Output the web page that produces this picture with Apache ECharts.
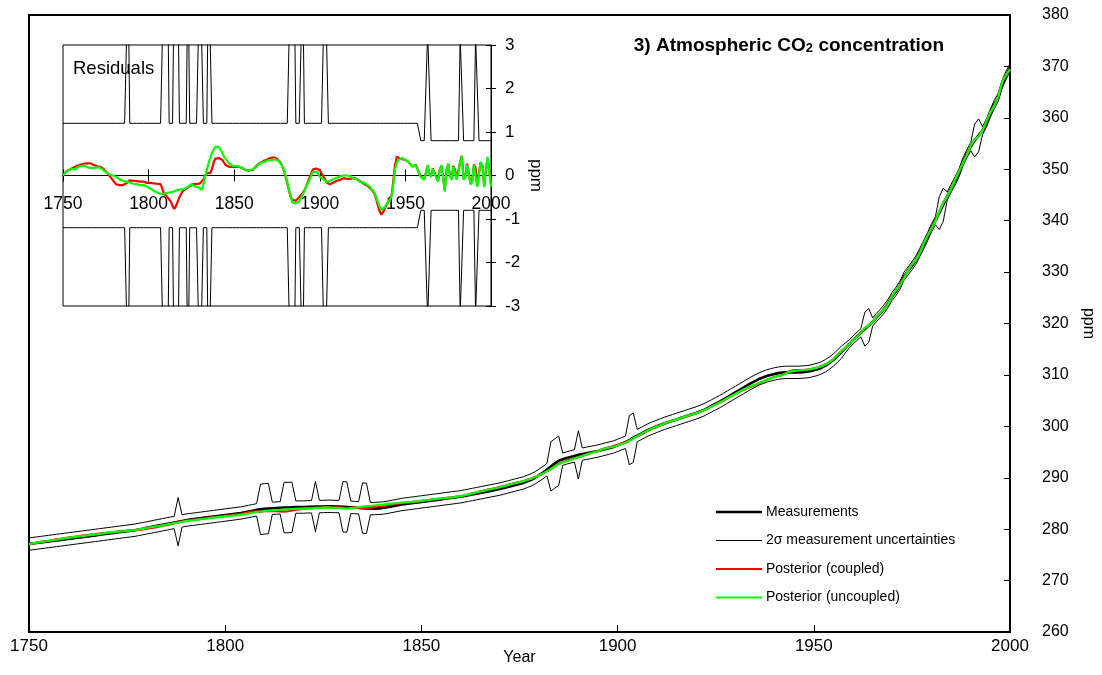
<!DOCTYPE html>
<html>
<head>
<meta charset="utf-8">
<script src="https://cdn.jsdelivr.net/npm/echarts@6/dist/echarts.min.js"></script>
<style>
  html, body { margin: 0; padding: 0; background: #fff; }
  #chart { width: 1102px; height: 675px; }
</style>
</head>
<body>
<div id="chart"></div>
<script>
// Atmospheric CO2, 1750-2000, one value per year
const startYear = 1750;

// Measured concentration (ppm)
const measurements = [
  277.1, 277.2, 277.3, 277.4, 277.5, 277.6, 277.7, 277.8, 277.9, 278.0,
  278.1, 278.2, 278.3, 278.4, 278.5, 278.6, 278.7, 278.8, 278.9, 279.0,
  279.1, 279.2, 279.3, 279.4, 279.5, 279.6, 279.7, 279.8, 279.95, 280.1,
  280.25, 280.4, 280.55, 280.7, 280.85, 281.0, 281.15, 281.3, 281.45, 281.6,
  281.75, 281.85, 281.95, 282.05, 282.15, 282.25, 282.35, 282.45, 282.55, 282.65,
  282.75, 282.85, 282.95, 283.05, 283.15, 283.3, 283.45, 283.6, 283.75, 283.85,
  283.95, 284.0, 284.05, 284.1, 284.15, 284.2, 284.2, 284.25, 284.3, 284.3,
  284.3, 284.35, 284.35, 284.4, 284.4, 284.4, 284.45, 284.45, 284.4, 284.4,
  284.35, 284.3, 284.25, 284.2, 284.15, 284.1, 284.05, 284.0, 284.0, 284.05,
  284.1, 284.2, 284.35, 284.5, 284.65, 284.8, 284.9, 285.0, 285.1, 285.2,
  285.3, 285.4, 285.5, 285.6, 285.7, 285.8, 285.9, 286.0, 286.1, 286.2,
  286.3, 286.45, 286.6, 286.75, 286.9, 287.05, 287.2, 287.35, 287.5, 287.65,
  287.8, 288.0, 288.2, 288.4, 288.6, 288.8, 289.0, 289.3, 289.6, 290.0,
  290.5, 291.0, 291.6, 292.2, 292.8, 293.3, 293.6, 293.85, 294.05, 294.25,
  294.45, 294.6, 294.75, 294.9, 295.05, 295.2, 295.4, 295.6, 295.8, 296.0,
  296.3, 296.6, 296.9, 297.3, 297.8, 298.2, 298.6, 299.0, 299.4, 299.7,
  300.0, 300.3, 300.6, 300.85, 301.1, 301.35, 301.6, 301.85, 302.1, 302.35,
  302.6, 302.9, 303.2, 303.6, 304.0, 304.4, 304.8, 305.25, 305.7, 306.15,
  306.6, 307.05, 307.5, 307.95, 308.4, 308.8, 309.2, 309.5, 309.8, 310.0,
  310.2, 310.35, 310.45, 310.5, 310.5, 310.5, 310.5, 310.55, 310.6, 310.7,
  310.9, 311.1, 311.4, 311.8, 312.3, 312.9, 313.6, 314.4, 315.2, 316.0,
  316.8, 317.5, 318.2, 318.9, 319.6, 320.3, 321.2, 322.0, 322.9, 324.0,
  325.3, 326.3, 327.5, 329.2, 330.2, 331.2, 332.3, 333.8, 335.3, 336.9,
  338.6, 340.0, 341.5, 343.1, 344.8, 346.3, 347.7, 349.3, 351.4, 353.0,
  354.4, 355.6, 356.6, 357.5, 359.0, 360.9, 362.6, 364.0, 366.5, 368.3,
  369.7
];

// 2-sigma measurement uncertainty (ppm)
const sigma2 = [
  1.2, 1.2, 1.2, 1.2, 1.2, 1.2, 1.2, 1.2, 1.2, 1.2,
  1.2, 1.2, 1.2, 1.2, 1.2, 1.2, 1.2, 1.2, 1.2, 1.2,
  1.2, 1.2, 1.2, 1.2, 1.2, 1.2, 1.2, 1.2, 1.2, 1.2,
  1.2, 1.2, 1.2, 1.2, 1.2, 1.2, 1.2, 1.2, 4.7, 1.2,
  1.2, 1.2, 1.2, 1.2, 1.2, 1.2, 1.2, 1.2, 1.2, 1.2,
  1.2, 1.2, 1.2, 1.2, 1.2, 1.2, 1.2, 1.2, 1.2, 4.9,
  4.9, 4.9, 1.2, 1.2, 1.2, 4.9, 4.9, 4.9, 1.2, 1.2,
  1.2, 1.2, 1.2, 4.9, 1.2, 1.2, 1.2, 1.2, 1.2, 1.2,
  4.9, 4.9, 1.2, 1.2, 1.2, 4.9, 4.9, 1.2, 1.2, 1.2,
  1.2, 1.2, 1.2, 1.2, 1.2, 1.2, 1.2, 1.2, 1.2, 1.2,
  1.2, 1.2, 1.2, 1.2, 1.2, 1.2, 1.2, 1.2, 1.2, 1.2,
  1.2, 1.2, 1.2, 1.2, 1.2, 1.2, 1.2, 1.2, 1.2, 1.2,
  1.2, 1.2, 1.2, 1.2, 1.2, 1.2, 1.2, 1.2, 1.2, 1.2,
  1.2, 1.2, 1.2, 4.8, 4.8, 4.8, 1.2, 1.2, 1.2, 1.2,
  4.7, 1.2, 1.2, 1.2, 1.2, 1.2, 1.2, 1.2, 1.2, 1.2,
  1.2, 1.2, 1.2, 4.8, 4.8, 1.2, 1.2, 1.2, 1.2, 1.2,
  1.2, 1.2, 1.2, 1.2, 1.2, 1.2, 1.2, 1.2, 1.2, 1.2,
  1.2, 1.2, 1.2, 1.2, 1.2, 1.2, 1.2, 1.2, 1.2, 1.2,
  1.2, 1.2, 1.2, 1.2, 1.2, 1.2, 1.2, 1.2, 1.2, 1.2,
  1.2, 1.2, 1.2, 1.2, 1.2, 1.2, 1.2, 1.2, 1.2, 1.2,
  1.2, 1.2, 1.2, 1.2, 1.2, 1.2, 1.2, 1.2, 1.0, 0.8,
  0.8, 0.8, 0.8, 3.3, 3.3, 0.8, 0.8, 0.8, 0.8, 0.8,
  0.8, 0.8, 0.8, 0.8, 0.8, 0.8, 0.8, 0.8, 0.8, 0.8,
  0.8, 0.8, 3.2, 3.2, 0.8, 0.8, 0.8, 0.8, 0.8, 0.8,
  0.8, 3.2, 3.2, 0.8, 0.8, 0.8, 0.8, 0.8, 0.8, 0.8,
  0.8
];

// Residuals, posterior minus measurement (ppm), coupled inversion
const residCoupled = [
  0.0, 0.05, 0.1, 0.12, 0.14, 0.15, 0.18, 0.2, 0.22, 0.23,
  0.24, 0.25, 0.27, 0.26, 0.28, 0.27, 0.28, 0.25, 0.24, 0.22,
  0.21, 0.2, 0.2, 0.17, 0.14, 0.1, 0.05, 0.0, -0.05, -0.1,
  -0.15, -0.2, -0.22, -0.22, -0.2, -0.22, -0.21, -0.18, -0.14, -0.11,
  -0.1, -0.12, -0.11, -0.13, -0.12, -0.14, -0.15, -0.14, -0.16, -0.17,
  -0.18, -0.17, -0.19, -0.18, -0.19, -0.19, -0.18, -0.2, -0.3, -0.42,
  -0.46, -0.5, -0.53, -0.6, -0.7, -0.77, -0.7, -0.6, -0.5, -0.42,
  -0.36, -0.33, -0.3, -0.28, -0.25, -0.22, -0.2, -0.22, -0.2, -0.19,
  -0.18, -0.2, -0.1, 0.0, 0.05, 0.04, 0.06, 0.15, 0.3, 0.39,
  0.42, 0.4, 0.38, 0.36, 0.3, 0.24, 0.22, 0.2, 0.21, 0.2,
  0.22, 0.2, 0.19, 0.2, 0.18, 0.16, 0.15, 0.12, 0.11, 0.12,
  0.11, 0.13, 0.17, 0.22, 0.26, 0.29, 0.31, 0.33, 0.35, 0.36,
  0.37, 0.4, 0.42, 0.42, 0.4, 0.38, 0.34, 0.3, 0.22, 0.12,
  -0.02, -0.18, -0.35, -0.5, -0.56, -0.6, -0.58, -0.55, -0.5, -0.45,
  -0.4, -0.34, -0.26, -0.15, -0.05, 0.05, 0.14, 0.18, 0.16, 0.16,
  0.12, 0.08, -0.02, -0.08, -0.16, -0.19, -0.2, -0.18, -0.16, -0.14,
  -0.12, -0.1, -0.1, -0.08, -0.06, -0.06, -0.08, -0.05, -0.07, -0.08,
  -0.06, -0.08, -0.09, -0.12, -0.14, -0.17, -0.2, -0.22, -0.24, -0.28,
  -0.32, -0.36, -0.42, -0.55, -0.7, -0.82, -0.9, -0.84, -0.75, -0.68,
  -0.6, -0.52, -0.45, -0.1, 0.25, 0.43, 0.42, 0.38, 0.4, 0.37,
  0.36, 0.34, 0.31, 0.26, 0.21, 0.19, 0.25, 0.23, 0.06, -0.02,
  -0.04, -0.08, 0.06, 0.22, 0.04, -0.02, 0.16, 0.12, -0.03, -0.12,
  0.12, 0.22, -0.03, -0.33, 0.12, 0.26, 0.02, -0.08, 0.22, 0.14,
  -0.08, -0.12, 0.32, 0.45, -0.08, -0.03, 0.27, 0.26, -0.17, -0.12,
  0.25, 0.18, -0.23, 0.07, 0.3, 0.22, -0.24, 0.12, 0.4, 0.12,
  -0.2
];

// Residuals, posterior minus measurement (ppm), uncoupled inversion
const residUncoupled = [
  0.0, 0.05, 0.08, 0.12, 0.10, 0.15, 0.16, 0.14, 0.18, 0.2,
  0.19, 0.22, 0.2, 0.22, 0.21, 0.18, 0.2, 0.17, 0.19, 0.18,
  0.2, 0.19, 0.16, 0.14, 0.1, 0.08, 0.05, 0.03, 0.01, 0.0,
  -0.02, -0.03, -0.06, -0.09, -0.1, -0.12, -0.13, -0.14, -0.15, -0.16,
  -0.18, -0.19, -0.2, -0.2, -0.21, -0.22, -0.22, -0.22, -0.24, -0.26,
  -0.28, -0.3, -0.32, -0.35, -0.37, -0.39, -0.41, -0.42, -0.41, -0.42,
  -0.41, -0.4, -0.41, -0.39, -0.38, -0.36, -0.34, -0.33, -0.34, -0.32,
  -0.32, -0.31, -0.28, -0.26, -0.24, -0.2, -0.22, -0.25, -0.26, -0.27,
  -0.3, -0.33, -0.2, -0.03, 0.12, 0.28, 0.4, 0.52, 0.6, 0.66,
  0.64, 0.66, 0.6, 0.52, 0.44, 0.38, 0.33, 0.28, 0.25, 0.22,
  0.2, 0.22, 0.19, 0.2, 0.18, 0.17, 0.14, 0.12, 0.1, 0.12,
  0.11, 0.14, 0.16, 0.2, 0.25, 0.28, 0.3, 0.31, 0.32, 0.33,
  0.35, 0.34, 0.36, 0.38, 0.37, 0.36, 0.33, 0.28, 0.22, 0.14,
  0.0, -0.15, -0.32, -0.48, -0.62, -0.66, -0.64, -0.65, -0.6, -0.52,
  -0.45, -0.36, -0.26, -0.18, -0.1, 0.0, 0.08, 0.12, 0.09, 0.04,
  -0.03, -0.05, -0.08, -0.12, -0.15, -0.14, -0.12, -0.1, -0.08, -0.06,
  -0.05, -0.04, -0.02, -0.01, 0.0, 0.01, 0.0, 0.0, -0.02, -0.05,
  -0.08, -0.1, -0.09, -0.14, -0.12, -0.15, -0.18, -0.2, -0.22, -0.25,
  -0.3, -0.33, -0.4, -0.5, -0.62, -0.72, -0.79, -0.76, -0.72, -0.68,
  -0.6, -0.55, -0.48, -0.2, 0.15, 0.3, 0.36, 0.4, 0.4, 0.37,
  0.36, 0.33, 0.3, 0.25, 0.2, 0.18, 0.24, 0.22, 0.05, -0.03,
  -0.05, -0.1, 0.05, 0.24, 0.02, -0.03, 0.15, 0.13, -0.05, -0.14,
  0.1, 0.24, -0.05, -0.37, 0.1, 0.28, 0.0, -0.1, 0.2, 0.16,
  -0.1, -0.14, 0.3, 0.44, -0.1, -0.05, 0.25, 0.28, -0.2, -0.15,
  0.24, 0.2, -0.26, 0.05, 0.32, 0.2, -0.26, 0.1, 0.43, 0.1,
  -0.26
];

const legendNames = [
  'Measurements',
  '2σ measurement uncertainties',
  'Posterior (coupled)',
  'Posterior (uncoupled)'
];

const FONT = "'Liberation Sans', Arial, Helvetica, sans-serif";

const years = measurements.map((_, i) => startYear + i);
const asPairs = arr => arr.map((v, i) => [years[i], v]);

// main panel series
const measPairs = asPairs(measurements);
const upperBand = asPairs(measurements.map((m, i) => m + sigma2[i]));
const lowerBand = asPairs(measurements.map((m, i) => m - sigma2[i]));
const postCoupled = asPairs(measurements.map((m, i) => m + residCoupled[i]));
const postUncoupled = asPairs(measurements.map((m, i) => m + residUncoupled[i]));

// inset series
const insetUpper = asPairs(sigma2);
const insetLower = asPairs(sigma2.map(s => -s));
const insetCoupled = asPairs(residCoupled);
const insetUncoupled = asPairs(residUncoupled);

function lineSeries(name, data, xi, yi, color, width, z) {
  return {
    name, type: 'line', data,
    xAxisIndex: xi, yAxisIndex: yi,
    symbol: 'none', color,
    lineStyle: { color, width },
    clip: true, z, silent: true
  };
}

const chart = echarts.init(document.getElementById('chart'), null, { renderer: 'canvas' });

const axisText = size => ({ color: '#000', fontSize: size, fontFamily: FONT });
const plainNumber = v => String(v);

const option = {
  animation: false,
  backgroundColor: '#fff',
  textStyle: { fontFamily: FONT },
  title: [
    {
      text: '{b|3) Atmospheric CO}{s|2}{b| concentration}',
      right: 153, top: 28,
      textStyle: {
        rich: {
          b: { fontSize: 19, fontWeight: 'bold', color: '#000', fontFamily: FONT, lineHeight: 22, verticalAlign: 'bottom' },
          s: { fontSize: 13, fontWeight: 'bold', color: '#000', fontFamily: FONT, lineHeight: 11, verticalAlign: 'bottom' }
        }
      }
    },
    {
      text: 'Residuals',
      left: 68, top: 54,
      textStyle: { fontSize: 18.5, fontWeight: 'normal', color: '#000', fontFamily: FONT }
    }
  ],
  legend: {
    orient: 'vertical',
    left: 711, top: 500,
    itemWidth: 46, itemHeight: 14, itemGap: 14.5,
    selectedMode: false,
    textStyle: { fontSize: 14, color: '#000', fontFamily: FONT, padding: [0, 0, 0, -1] },
    data: [
      { name: legendNames[0], icon: 'path://M0,0H46V2.6H0Z' },
      { name: legendNames[1], icon: 'path://M0,0H46V1.1H0Z' },
      { name: legendNames[2], icon: 'path://M0,0H46V2.2H0Z' },
      { name: legendNames[3], icon: 'path://M0,0H46V2.2H0Z' }
    ]
  },
  grid: [
    { left: 29, top: 15, width: 981, height: 617, outerBoundsMode: 'none', containLabel: false,
      show: true, borderColor: '#000', borderWidth: 2, backgroundColor: 'transparent' },
    { left: 63, top: 45, width: 428, height: 261, outerBoundsMode: 'none', containLabel: false,
      show: true, borderColor: '#000', borderWidth: 1, backgroundColor: '#fff' }
  ],
  xAxis: [
    {
      gridIndex: 0, type: 'value', min: 1750, max: 2000, interval: 50,
      axisLine: { lineStyle: { color: '#000', width: 2 } },
      axisTick: { inside: true, length: 7, lineStyle: { color: '#000', width: 1 } },
      axisLabel: Object.assign({ margin: 6, formatter: plainNumber }, axisText(17)),
      splitLine: { show: false },
      name: 'Year', nameLocation: 'middle', nameGap: 18, nameMoveOverlap: false,
      nameTextStyle: axisText(16)
    },
    {
      gridIndex: 1, type: 'value', min: 1750, max: 2000, interval: 50, position: 'bottom',
      axisLine: { onZero: true, onZeroAxisIndex: 1, lineStyle: { color: '#000', width: 1 } },
      axisTick: { inside: false, length: 6, lineStyle: { color: '#000', width: 1 } },
      axisLabel: Object.assign({ margin: -111, formatter: plainNumber }, axisText(17.5)),
      splitLine: { show: false }
    },
    {
      gridIndex: 1, type: 'value', min: 1750, max: 2000, interval: 50, position: 'top',
      axisLine: { show: false, onZero: true, onZeroAxisIndex: 2 },
      axisTick: { show: true, inside: false, length: 6, lineStyle: { color: '#000', width: 1 } },
      axisLabel: { show: false },
      splitLine: { show: false }
    }
  ],
  yAxis: [
    {
      gridIndex: 0, type: 'value', position: 'right', min: 260, max: 380, interval: 10,
      axisLine: { show: true, lineStyle: { color: '#000', width: 2 } },
      axisTick: { show: true, inside: true, length: 6, lineStyle: { color: '#000', width: 1 } },
      axisLabel: Object.assign({ margin: 32 }, axisText(16)),
      splitLine: { show: false },
      name: 'ppm', nameLocation: 'middle', nameRotate: -90, nameGap: 70, nameMoveOverlap: false,
      nameTextStyle: axisText(16)
    },
    {
      gridIndex: 1, type: 'value', position: 'right', min: -3, max: 3, interval: 1,
      axisLine: { show: true, lineStyle: { color: '#000', width: 1 } },
      axisTick: { show: true, inside: false, length: 5, lineStyle: { color: '#000', width: 1 } },
      axisLabel: Object.assign({ margin: 14 }, axisText(17)),
      splitLine: { show: false },
      name: 'ppm', nameLocation: 'middle', nameRotate: -90, nameGap: 36, nameMoveOverlap: false,
      nameTextStyle: axisText(17)
    },
    {
      gridIndex: 1, type: 'value', position: 'left', offset: -428, min: -3, max: 3, interval: 1,
      axisLine: { show: false },
      axisTick: { show: true, inside: false, length: 5, lineStyle: { color: '#000', width: 1 } },
      axisLabel: { show: false },
      splitLine: { show: false }
    }
  ],
  series: [
    lineSeries(legendNames[0], measPairs, 0, 0, '#000000', 2.6, 3),
    lineSeries(legendNames[1], upperBand, 0, 0, '#000000', 1, 2),
    lineSeries(legendNames[1], lowerBand, 0, 0, '#000000', 1, 2),
    lineSeries(legendNames[2], postCoupled, 0, 0, '#ff0000', 2.2, 4),
    lineSeries(legendNames[3], postUncoupled, 0, 0, '#00ff00', 2.2, 5),

    lineSeries(legendNames[1], insetUpper, 1, 1, '#000000', 1, 2),
    lineSeries(legendNames[1], insetLower, 1, 1, '#000000', 1, 2),
    lineSeries(legendNames[2], insetCoupled, 1, 1, '#ff0000', 2.2, 4),
    lineSeries(legendNames[3], insetUncoupled, 1, 1, '#00ff00', 2.2, 5)
  ]
};

chart.setOption(option);
</script>
</body>
</html>
